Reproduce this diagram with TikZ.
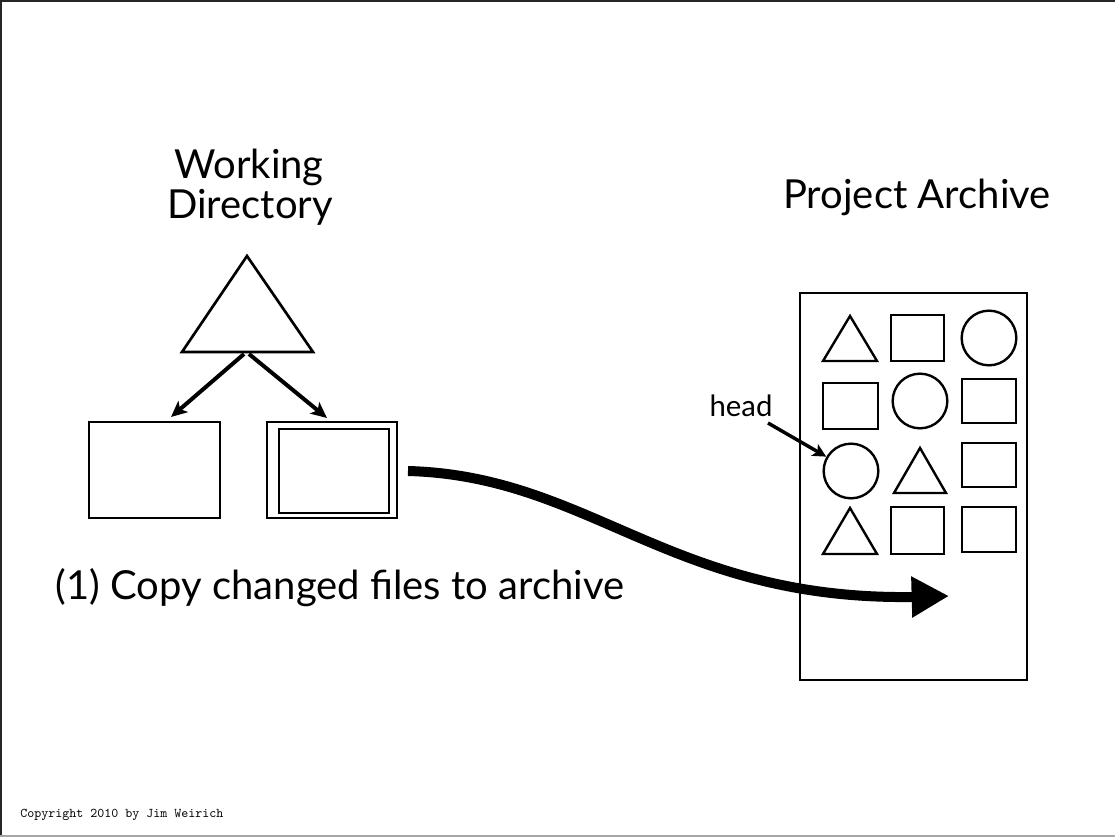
\documentclass[tikz,border=0pt]{standalone}
\usepackage{fontspec}
\setmainfont{Lato}
\usetikzlibrary{arrows.meta}
\begin{document}
\begin{tikzpicture}[x=0.75pt,y=-0.75pt,
  shp/.style={draw=black, line width=2pt, line join=miter},
  ashp/.style={draw=black, line width=1.8pt, line join=miter},
  childarrow/.style={draw=black, line width=3pt, -{Stealth[length=12pt,width=11pt,inset=3pt]}},
  headarrow/.style={draw=black, line width=2.6pt, -{Stealth[length=10pt,width=10pt,inset=2.5pt]}},
  bigarrow/.style={draw=black, line width=7.5pt, -{Triangle[length=28pt,width=29pt]}},
  big/.style={anchor=base, font=\fontsize{30}{36}\selectfont},
]
\useasboundingbox (0,0) rectangle (1115,837);
% frame
\draw[line width=1.5pt, black!85] (0,1) -- (1115,1);
\draw[line width=1.5pt, black!85] (1,0) -- (1,837);
\draw[line width=1.5pt, black!35] (0,836) -- (1115,836);

% working directory
\node[big] (wd1) at (249,179) {Working};
\node[big] (wd2) at (250,219) {Directory};
\coordinate (wdA) at (247,256);
\coordinate (wdL) at (182,352);
\coordinate (wdR) at (313,352);
\draw[shp] (wdA) -- (wdL) -- (wdR) -- cycle;
\coordinate (wdB1) at (244,354);
\coordinate (wdB2) at (249,354);
\coordinate (tipL) at (171,417);
\coordinate (tipR) at (327,418);
\draw[childarrow] (wdB1) -- (tipL);
\draw[childarrow] (wdB2) -- (tipR);
\draw[shp] (89,422) rectangle (220,518);
\draw[shp] (267,422) rectangle (397,518);
\draw[shp] (279,429) rectangle (389,513);

% label
\node[big] (copy) at (340,600) {(1) Copy changed files to archive};

% big arrow
\coordinate (bs) at (408,471);
\coordinate (be) at (912,597);
\coordinate (bt) at (949,596);
\draw[bigarrow] (bs) .. controls (590,476) and (670,600) .. (be) -- (bt);

% archive
\node[big] (pa) at (917,209) {Project Archive};
\draw[shp] (800,293) rectangle (1027,680);
% row 1
\draw[ashp] (850,316) -- (823,361) -- (877,361) -- cycle;
\draw[ashp] (891,315) rectangle (944,361);
\draw[ashp] (989,338) circle[radius=20.5pt];
% row 2
\draw[ashp] (823,383) rectangle (878,429);
\draw[ashp] (920,401) circle[radius=20.5pt];
\draw[ashp] (962,379) rectangle (1016,423);
% row 3
\node[circle, ashp, minimum size=41pt, inner sep=0pt, outer sep=1pt] (hc) at (851,471) {};
\draw[ashp] (920,448) -- (894,493) -- (946,493) -- cycle;
\draw[ashp] (962,443) rectangle (1016,487);
% row 4
\draw[ashp] (850,508) -- (823,554) -- (877,554) -- cycle;
\draw[ashp] (891,507) rectangle (944,554);
\draw[ashp] (962,507) rectangle (1016,552);

% head
\node[anchor=base, font=\fontsize{22}{26}\selectfont] (head) at (741,417) {head};
\coordinate (hs) at (768,423);
\draw[headarrow] (hs) -- (hc);

% copyright
\node[anchor=base west, inner sep=0pt, font=\ttfamily\fontsize{10}{12}\selectfont] (copyr) at (20,817) {Copyright 2010 by Jim Weirich};
\end{tikzpicture}
\end{document}
